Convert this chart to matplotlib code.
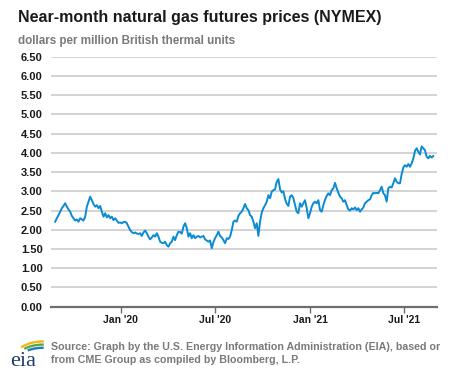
"""Near-month natural gas futures prices (NYMEX), EIA style chart."""

import matplotlib

matplotlib.use("Agg")
import matplotlib.dates as mdates
import matplotlib.pyplot as plt
import pandas as pd
from matplotlib.patches import Arc

plt.rcParams["font.family"] = ["Liberation Sans", "DejaVu Sans"]

LINE = "#0A8BD3"
GRID = "#C8C8C8"
AXIS = "#6E6E6E"
INK = "#1A1A1A"
MUTED = "#7A7A7A"

START_DATE = "2019-08-28"
END_DATE = "2021-08-26"

# dollars per MMBtu, every 3 days
prices_fall_2019 = [
    2.21, 2.30, 2.38, 2.47, 2.56, 2.62, 2.69, 2.60, 2.53, 2.47,
    2.36, 2.30, 2.24, 2.27, 2.21, 2.30, 2.27, 2.24, 2.34, 2.60,
    2.73, 2.86, 2.77, 2.67, 2.60, 2.64, 2.56, 2.62, 2.47, 2.34,
    2.43, 2.32, 2.38, 2.30, 2.34, 2.25, 2.30, 2.24, 2.18,
]
prices_spring_2020 = [
    2.19, 2.17, 2.20, 2.21, 2.17, 2.08, 1.99, 1.94, 1.91, 1.93,
    1.90, 1.89, 1.91, 1.84, 1.93, 1.98, 1.91, 1.82, 1.75, 1.80,
    1.86, 1.82, 1.91, 1.82, 1.69, 1.66, 1.65, 1.69, 1.60, 1.56,
    1.65, 1.69, 1.82, 1.73, 1.86, 1.95, 1.94, 1.90,
]
prices_summer_2020 = [
    2.08, 2.17, 2.04, 1.82, 1.91, 1.78, 1.86, 1.78, 1.82, 1.84,
    1.80, 1.82, 1.84, 1.75, 1.72, 1.69, 1.72, 1.52, 1.68, 1.78,
    1.86, 1.95, 1.84, 1.80, 1.73, 1.65, 1.78, 1.76, 1.82, 1.99,
    2.21, 2.24, 2.21, 2.36, 2.43, 2.47, 2.56, 2.67, 2.56, 2.51,
]
prices_2020_2021 = [
    2.38, 2.34, 2.21, 2.04, 2.17, 1.84, 2.21, 2.45, 2.56, 2.64,
    2.73, 2.90, 2.82, 2.99, 3.03, 3.05, 3.25, 3.32, 3.05, 2.97,
    3.00, 2.80, 2.68, 2.62, 2.86, 2.90, 2.82, 2.64, 2.47, 2.43,
    2.69, 2.60, 2.69, 2.77, 2.56, 2.30, 2.43, 2.60, 2.69, 2.73,
    2.69, 2.77, 2.51, 2.47, 2.64, 2.78, 2.88, 2.95, 2.90, 3.03,
    3.08, 3.22, 3.08, 2.96, 2.86, 2.82, 2.73, 2.77, 2.64, 2.53,
    2.50, 2.56, 2.53, 2.58, 2.51, 2.56, 2.47, 2.53, 2.58, 2.69,
    2.73, 2.77, 2.79, 2.90, 2.96, 2.95, 2.96, 2.95, 3.03, 3.12,
    2.95, 2.90, 2.73, 3.08, 3.12, 3.10, 3.21, 3.34, 3.25, 3.21,
    3.21, 3.45, 3.62, 3.68, 3.64, 3.71, 3.64, 3.73, 3.85, 4.05,
    4.12, 4.03, 3.96, 4.17, 4.12, 4.07, 3.90, 3.86, 3.92, 3.88,
    3.92,
]

y_ticks = [0.0, 0.5, 1.0, 1.5, 2.0, 2.5, 3.0, 3.5, 4.0, 4.5, 5.0, 5.5, 6.0, 6.5]
x_ticks = ["2020-01-01", "2020-07-01", "2021-01-01", "2021-07-01"]
x_labels = ["Jan '20", "Jul '20", "Jan '21", "Jul '21"]

TITLE = "Near-month natural gas futures prices (NYMEX)"
UNITS = "dollars per million British thermal units"
SOURCE = ("Source: Graph by the U.S. Energy Information Administration (EIA), based or\n"
          "from CME Group as compiled by Bloomberg, L.P.")


def draw_logo(fig):
    # small stand-in for the EIA logo: three swooshes over "eia"
    lax = fig.add_axes([0.022, 0.02, 0.075, 0.12])
    lax.set_xlim(0, 1)
    lax.set_ylim(0, 1)
    lax.axis("off")
    for color, a, b in (("#F2B51C", 0.80, 0.36), ("#5DAA3C", 0.72, 0.29),
                        ("#1C7DC2", 0.64, 0.22)):
        lax.add_patch(Arc((0.92, 0.30), 2 * a, 2 * b, theta1=88, theta2=160,
                          color=color, lw=1.7))
    lax.text(0.0, 0.02, "eia", family="Liberation Serif", fontsize=16,
             color="#1F3D6C", ha="left", va="bottom")


def build_figure():
    values = prices_fall_2019 + prices_spring_2020 + prices_summer_2020 + prices_2020_2021
    dates = pd.date_range(START_DATE, END_DATE, periods=len(values))
    series = pd.Series(values, index=dates)

    fig = plt.figure(figsize=(4.77, 3.79), dpi=100, facecolor="white")
    ax = fig.add_axes([0.107, 0.191, 0.809, 0.659])

    ax.plot(series.index, series.values, color=LINE, lw=1.4, zorder=3)

    ax.set_ylim(0, 6.5)
    ax.set_xlim(pd.Timestamp("2019-08-20"), pd.Timestamp("2021-09-02"))
    ax.set_yticks(y_ticks)
    ax.set_yticklabels([f"{v:.2f}" for v in y_ticks], fontsize=8,
                       fontweight="bold", color=INK)
    ax.set_xticks(pd.to_datetime(x_ticks))
    ax.set_xticklabels(x_labels, fontsize=7.5, fontweight="bold", color=INK)
    ax.xaxis.set_minor_locator(mdates.MonthLocator(bymonth=[1, 7]))

    ax.grid(axis="y", color=GRID, lw=1.1)
    ax.set_axisbelow(True)
    for side in ("top", "right", "left"):
        ax.spines[side].set_visible(False)
    ax.spines["bottom"].set_color(AXIS)
    ax.spines["bottom"].set_linewidth(1.6)
    ax.tick_params(axis="y", length=0, pad=6)
    ax.tick_params(axis="x", length=4, width=1, color=AXIS, pad=2)

    fig.text(0.038, 0.955, TITLE, fontsize=11.5, fontweight="bold", color=INK,
             va="center", ha="left")
    fig.text(0.038, 0.893, UNITS, fontsize=8.4, fontweight="bold", color=MUTED,
             va="center", ha="left")
    fig.text(0.107, 0.068, SOURCE, fontsize=7.7, fontweight="bold", color=MUTED,
             va="center", ha="left", linespacing=1.4)

    draw_logo(fig)

    fig.savefig("out.png", dpi=100, facecolor="white")
    plt.close(fig)


if __name__ == "__main__":
    build_figure()
